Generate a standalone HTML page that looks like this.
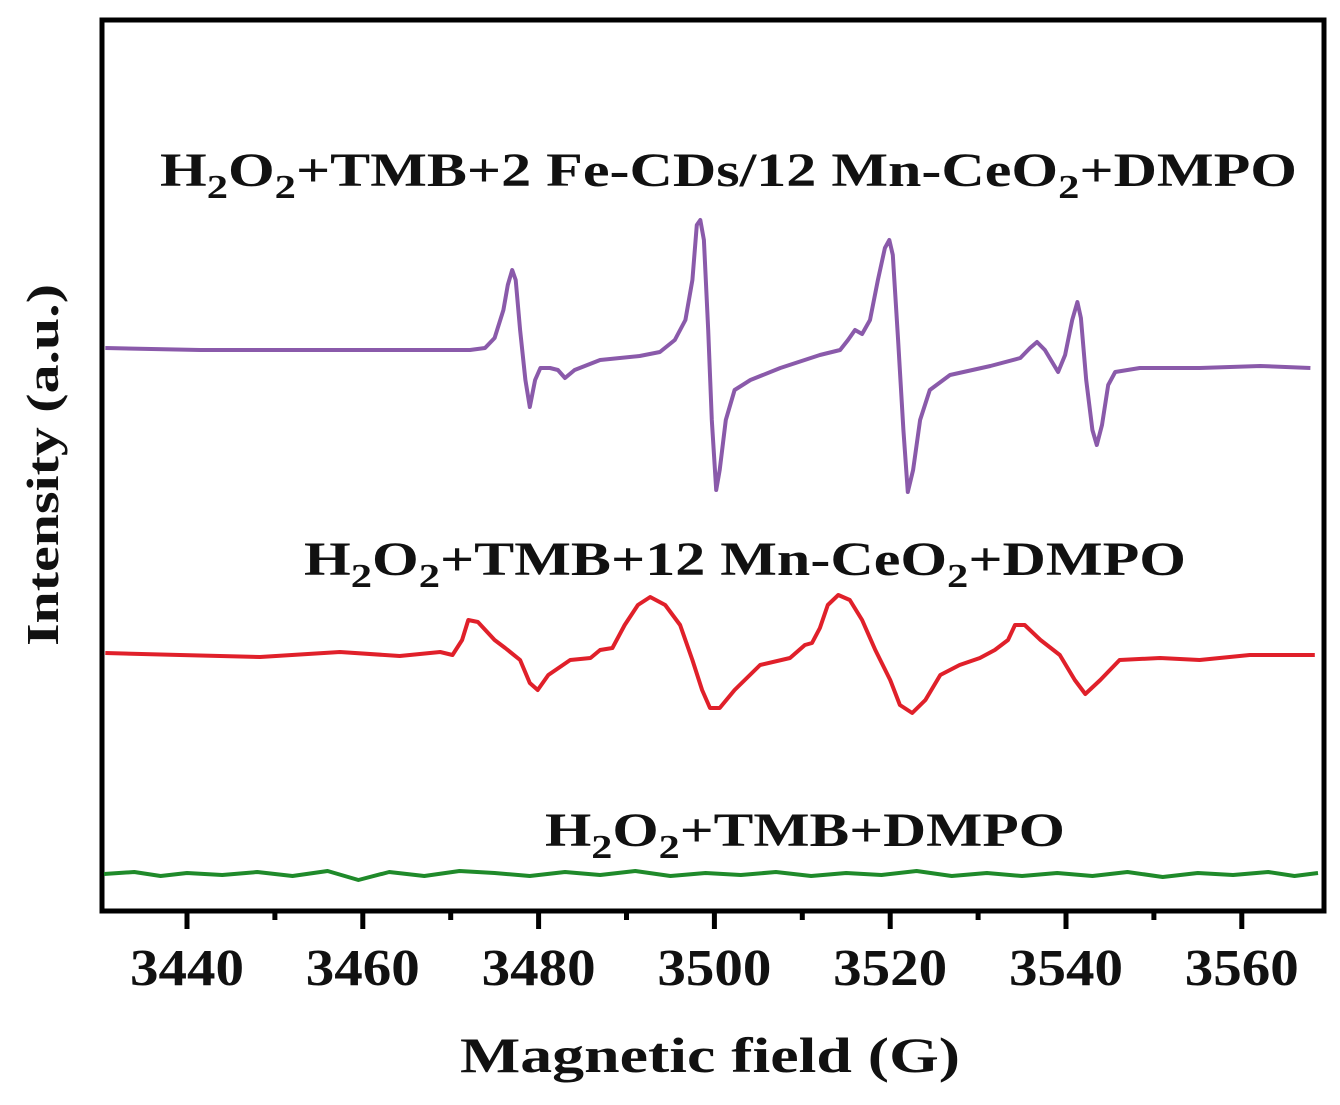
<!DOCTYPE html>
<html><head><meta charset="utf-8"><style>
html,body{margin:0;padding:0;background:#fff;}
svg text{font-family:"Liberation Serif",serif;font-weight:bold;fill:#111;}
</style></head><body>
<svg id="chart" width="1340" height="1100" viewBox="0 0 1340 1100" xmlns="http://www.w3.org/2000/svg">
<rect x="102" y="20" width="1222" height="891" fill="none" stroke="#000" stroke-width="5"/>
<g id="ticks"></g>
<g id="series"></g>
<g>
<text x="160" y="186" font-size="48" textLength="1137" lengthAdjust="spacingAndGlyphs">H<tspan dy="12" font-size="34">2</tspan><tspan dy="-12">O</tspan><tspan dy="12" font-size="34">2</tspan><tspan dy="-12">+TMB+2 Fe-CDs/12 Mn-CeO</tspan><tspan dy="12" font-size="34">2</tspan><tspan dy="-12">+DMPO</tspan></text>
<text x="304" y="575" font-size="48" textLength="882" lengthAdjust="spacingAndGlyphs">H<tspan dy="12" font-size="34">2</tspan><tspan dy="-12">O</tspan><tspan dy="12" font-size="34">2</tspan><tspan dy="-12">+TMB+12 Mn-CeO</tspan><tspan dy="12" font-size="34">2</tspan><tspan dy="-12">+DMPO</tspan></text>
<text x="545" y="846" font-size="48" textLength="520" lengthAdjust="spacingAndGlyphs">H<tspan dy="12" font-size="34">2</tspan><tspan dy="-12">O</tspan><tspan dy="12" font-size="34">2</tspan><tspan dy="-12">+TMB+DMPO</tspan></text>
</g>
<text transform="translate(58,465) rotate(-90)" text-anchor="middle" font-size="46" textLength="362" lengthAdjust="spacingAndGlyphs">Intensity (a.u.)</text>
<text x="710" y="1072" text-anchor="middle" font-size="50" textLength="500" lengthAdjust="spacingAndGlyphs">Magnetic field (G)</text>
</svg>
<script>
const tickValues=[3440,3460,3480,3500,3520,3540,3560];
const minorTicks=[3450,3470,3490,3510,3530,3550];
const purpleField=[3430.7,3441.5,3452.9,3464.2,3472.2,3473.9,3475.0,3476.0,3476.5,3477.0,3477.4,3477.9,3478.5,3479.0,3479.6,3480.2,3481.3,3482.2,3483.0,3484.1,3487.0,3491.5,3493.8,3495.5,3496.7,3497.5,3498.0,3498.4,3498.8,3499.3,3499.7,3500.2,3500.6,3501.3,3502.3,3504.1,3507.5,3512.0,3514.3,3515.2,3516.0,3516.8,3517.7,3518.6,3519.4,3519.9,3520.3,3520.9,3521.5,3522.0,3522.6,3523.4,3524.5,3526.8,3531.4,3534.8,3535.9,3536.7,3537.6,3539.1,3539.9,3540.7,3541.3,3541.7,3542.3,3543.0,3543.5,3544.1,3544.8,3545.6,3548.4,3555.2,3562.1,3567.8];
const purpleVal=[2,0,0,0,0,2,12,40,65,80,70,20,-30,-57,-30,-18,-18,-20,-28,-20,-10,-6,-2,10,30,70,125,130,110,20,-70,-140,-120,-70,-40,-30,-18,-5,0,10,20,16,30,70,102,110,95,10,-80,-142,-120,-70,-40,-25,-16,-8,2,8,0,-22,-5,30,48,32,-30,-80,-95,-75,-35,-22,-18,-18,-16,-18];
const redField=[3430.7,3439.2,3448.3,3457.4,3464.2,3468.8,3470.2,3471.3,3472.0,3473.1,3475.0,3476.2,3477.9,3479.0,3479.9,3481.1,3483.6,3485.9,3487.0,3488.4,3489.8,3491.3,3492.7,3494.4,3496.1,3497.5,3498.6,3499.5,3500.6,3502.3,3505.2,3508.6,3510.3,3511.1,3512.0,3512.9,3514.1,3515.4,3516.8,3518.3,3520.0,3521.1,3522.5,3524.0,3525.7,3527.9,3530.2,3531.9,3533.4,3534.2,3535.3,3537.1,3539.3,3541.0,3542.2,3543.9,3546.1,3550.7,3555.2,3560.9,3568.3];
const redVal=[2,0,-2,3,-1,3,0,15,35,33,15,7,-5,-28,-35,-20,-5,-3,5,7,30,50,58,50,30,-5,-35,-53,-53,-35,-10,-3,10,12,27,50,60,55,35,5,-25,-50,-58,-45,-20,-10,-3,5,15,30,30,15,0,-25,-39,-25,-5,-3,-5,0,0];
const greenField=[3430.5,3434,3437,3440,3444,3448,3452,3456,3459.5,3463,3467,3471,3475,3479,3483,3487,3491,3495,3499,3503,3507,3511,3515,3519,3523,3527,3531,3535,3539,3543,3547,3551,3555,3559,3563,3566,3569.5];
const greenVal=[0,2,-2,1,-1,2,-2,3,-6,2,-2,3,1,-2,2,-1,3,-2,1,-1,2,-2,1,-1,3,-2,1,-2,1,-2,2,-3,1,-1,2,-2,1];
const baselines={purple:350,red:655,green:874};
const pxPerG=8.79, x0=187;
function xs(v){return x0+(v-3440)*pxPerG;}
const NS="http://www.w3.org/2000/svg";
const tg=document.getElementById('ticks');
tickValues.forEach(v=>{
 const l=document.createElementNS(NS,'line');
 l.setAttribute('x1',xs(v));l.setAttribute('x2',xs(v));l.setAttribute('y1',911);l.setAttribute('y2',929);
 l.setAttribute('stroke','#000');l.setAttribute('stroke-width','5');
 
 
 tg.appendChild(l);
 const t=document.createElementNS(NS,'text');
 t.setAttribute('x',xs(v)-57);t.setAttribute('y',985);t.setAttribute('font-size','52');
 t.setAttribute('textLength','114');t.setAttribute('lengthAdjust','spacingAndGlyphs');
 t.textContent=v;
 
 
 tg.appendChild(t);
});
minorTicks.forEach(v=>{
 const l=document.createElementNS(NS,'line');
 l.setAttribute('x1',xs(v));l.setAttribute('x2',xs(v));l.setAttribute('y1',911);l.setAttribute('y2',920);
 l.setAttribute('stroke','#000');l.setAttribute('stroke-width','5');
 
 
 tg.appendChild(l);
});
const sg=document.getElementById('series');
function draw(fields,vals,base,color,name,w){
 let d='';
 fields.forEach((f,i)=>{let x=Math.min(Math.max(xs(f),104),1318);d+=(i?'L':'M')+x.toFixed(1)+','+(base-vals[i]).toFixed(1);});
 const p=document.createElementNS(NS,'path');
 p.setAttribute('d',d);p.setAttribute('fill','none');p.setAttribute('stroke',color);p.setAttribute('stroke-width',w);p.setAttribute('stroke-linejoin','round');
 
 
 sg.appendChild(p);
}
draw(purpleField,purpleVal,baselines.purple,'#8a5aaa','series-fe-cds-mn-ceo2',4);
draw(redField,redVal,baselines.red,'#e0202a','series-mn-ceo2',4);
draw(greenField,greenVal,baselines.green,'#1f8a2a','series-control',4);
</script>
</body></html>
